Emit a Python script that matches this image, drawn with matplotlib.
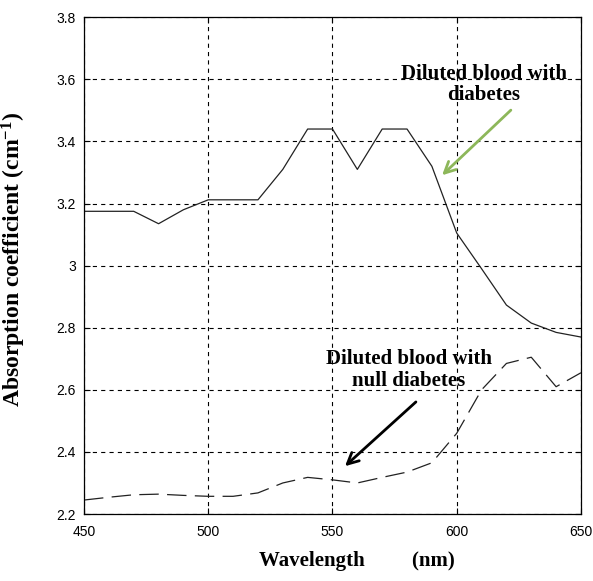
import matplotlib
matplotlib.use('Agg')
from matplotlib import pyplot as plt

plt.rcParams['lines.scale_dashes'] = False
plt.rcParams['mathtext.fontset'] = 'custom'
plt.rcParams['mathtext.rm'] = 'Liberation Serif:bold'
plt.rcParams['mathtext.it'] = 'Liberation Serif:bold'
plt.rcParams['mathtext.bf'] = 'Liberation Serif:bold'
plt.rcParams['mathtext.default'] = 'rm'

# 波长 (nm)
wavelength = [450, 460, 470, 480, 490, 500, 510, 520, 530, 540, 550,
              560, 570, 580, 590, 600, 610, 620, 630, 640, 650]
# 糖尿病血液
diabetes = [3.175, 3.175, 3.175, 3.135, 3.18, 3.212, 3.212, 3.212, 3.31, 3.44, 3.44,
            3.31, 3.44, 3.44, 3.32, 3.105, 2.99, 2.873, 2.815, 2.785, 2.77]
# 正常血液
null_diabetes = [2.245, 2.254, 2.262, 2.264, 2.26, 2.257, 2.257, 2.268, 2.30, 2.318, 2.31,
                 2.30, 2.318, 2.335, 2.365, 2.46, 2.60, 2.685, 2.705, 2.61, 2.655]

xticks = [450, 500, 550, 600, 650]
yticks = [2.2, 2.4, 2.6, 2.8, 3.0, 3.2, 3.4, 3.6, 3.8]
ytick_labels = ['2.2', '2.4', '2.6', '2.8', '3', '3.2', '3.4', '3.6', '3.8']

fig = plt.figure(figsize=(5.93, 5.81), dpi=100)
ax = fig.add_axes([0.1417, 0.1153, 0.838, 0.855])

ax.plot(wavelength, diabetes, '-', color='#222222', lw=0.9)
ax.plot(wavelength, null_diabetes, color='#222222', lw=0.9, linestyle=(0, (14, 6)))

ax.set_xlim(450, 650)
ax.set_ylim(2.2, 3.8)
ax.set_xticks(xticks)
ax.set_yticks(yticks)
ax.set_yticklabels(ytick_labels)
ax.grid(True, color='black', linestyle=(0, (3, 3)), lw=0.8)
ax.tick_params(direction='in', length=4, top=True, right=True, labelsize=10)
ax.tick_params(axis='x', pad=8)
ax.tick_params(axis='y', pad=6)
for lab in ax.get_xticklabels() + ax.get_yticklabels():
    lab.set_family('Liberation Sans')
for s in ax.spines.values():
    s.set_linewidth(0.9)

ax.set_xlabel('Wavelength         (nm)', family='Liberation Serif', fontweight='bold', fontsize=15)
ax.xaxis.set_label_coords(0.55, -0.075)
ax.set_ylabel('Absorption coefficient (cm$^{-1}$)', family='Liberation Serif',
              fontweight='bold', fontsize=17)
ax.yaxis.set_label_coords(-0.112, 0.513)

# 标注
ax.annotate('', xy=(593.3, 3.285), xytext=(622.6, 3.507),
            arrowprops=dict(arrowstyle='->,head_length=0.8,head_width=0.4', color='#8db75a', lw=2))
ax.text(611, 3.584, 'Diluted blood with\ndiabetes', ha='center', va='center',
        family='Liberation Serif', fontweight='bold', fontsize=15, linespacing=1.1)
ax.annotate('', xy=(554.2, 2.348), xytext=(584.4, 2.567),
            arrowprops=dict(arrowstyle='->,head_length=0.8,head_width=0.4', color='black', lw=2))
ax.text(580.8, 2.664, 'Diluted blood with\nnull diabetes', ha='center', va='center',
        family='Liberation Serif', fontweight='bold', fontsize=15, linespacing=1.1)

fig.savefig('out.png', dpi=100)
